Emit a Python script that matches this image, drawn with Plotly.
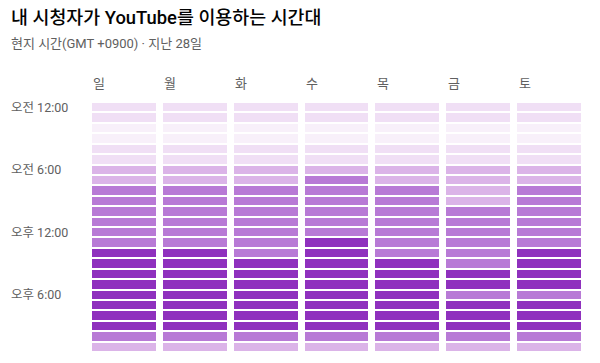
import plotly.graph_objects as go

days = ["일", "월", "화", "수", "목", "금", "토"]
hour_tick_rows = [0, 6, 12, 18]
hour_tick_labels = ["오전 12:00", "오전 6:00", "오후 12:00", "오후 6:00"]

# activity level per hour (0 = lowest, 4 = highest), 24 hours starting at midnight
sun = [1, 1, 0, 0, 1, 1, 2, 2, 3, 3, 3, 3, 3, 3, 4, 4, 4, 4, 4, 4, 4, 4, 3, 2]
mon = [1, 1, 0, 0, 1, 1, 2, 2, 3, 3, 3, 3, 3, 3, 4, 4, 4, 4, 4, 4, 4, 4, 3, 2]
tue = [1, 1, 0, 0, 1, 1, 2, 2, 3, 3, 3, 3, 3, 3, 3, 4, 4, 4, 4, 4, 4, 4, 3, 2]
wed = [1, 1, 0, 0, 1, 1, 2, 3, 3, 3, 3, 3, 3, 4, 4, 4, 4, 4, 4, 4, 4, 4, 3, 2]
thu = [1, 1, 0, 0, 1, 1, 2, 2, 3, 3, 3, 3, 3, 3, 3, 4, 4, 4, 4, 4, 4, 4, 3, 2]
fri = [1, 1, 0, 0, 1, 1, 2, 2, 2, 2, 3, 3, 3, 3, 3, 3, 4, 4, 3, 4, 4, 4, 3, 2]
sat = [1, 1, 0, 0, 1, 1, 2, 2, 3, 3, 3, 3, 3, 3, 4, 4, 4, 4, 3, 4, 4, 4, 3, 2]

level_colors = ["#f8f0fa", "#f0dff5", "#dbb4e8", "#b87ad6", "#8f30be"]

columns = [sun, mon, tue, wed, thu, fri, sat]
hours = list(range(24))
z = [[col[h] for col in columns] for h in hours]

cs = []
n = len(level_colors)
for i, c in enumerate(level_colors):
    lo = max(0.0, (i - 0.5) / (n - 1))
    hi = min(1.0, (i + 0.5) / (n - 1))
    cs.append([lo, c])
    cs.append([hi, c])

fig = go.Figure(
    go.Heatmap(
        z=z,
        x=list(range(len(days))),
        y=hours,
        colorscale=cs,
        zmin=0,
        zmax=n - 1,
        showscale=False,
        xgap=7,
        ygap=2,
        hoverinfo="skip",
    )
)

L, R, T, B = 88.5, 14.5, 102, 11.4
W, H = 600, 363
pw = W - L - R
ph = H - T - B
FONT = "Roboto, Noto Sans CJK KR, sans-serif"


def py(pix):
    return (H - B - pix) / ph


def px(pix):
    return (pix - L) / pw


annotations = []
for i, d in enumerate(days):
    annotations.append(dict(
        x=i - 0.5 + 2.5 / (pw / 7), y=py(84), xref="x", yref="paper",
        text=d, showarrow=False, xanchor="left", yanchor="middle",
        font=dict(family=FONT, size=13, color="#606060"),
    ))

for r, t in zip(hour_tick_rows, hour_tick_labels):
    annotations.append(dict(
        x=px(8), y=r, xref="paper", yref="y",
        text=t, showarrow=False, xanchor="left", yanchor="middle",
        font=dict(family=FONT, size=12.5, color="#606060"),
    ))

annotations.append(dict(
    x=px(8), y=py(18), xref="paper", yref="paper",
    text="내 시청자가 YouTube를 이용하는 시간대", showarrow=False,
    xanchor="left", yanchor="middle",
    font=dict(family=FONT, size=18.4, color="#030303", weight=500),
))
annotations.append(dict(
    x=px(8), y=py(44), xref="paper", yref="paper",
    text="현지 시간(GMT +0900) · 지난 28일", showarrow=False,
    xanchor="left", yanchor="middle",
    font=dict(family=FONT, size=13, color="#606060"),
))

fig.update_layout(
    width=W, height=H,
    margin=dict(l=L, r=R, t=T, b=B, pad=0),
    paper_bgcolor="white", plot_bgcolor="white",
    xaxis=dict(visible=False, range=[-0.5, 6.5], fixedrange=True),
    yaxis=dict(visible=False, range=[23.5, -0.5], fixedrange=True),
    annotations=annotations,
    showlegend=False,
)

fig.write_html("out.html", config={"displayModeBar": False})
